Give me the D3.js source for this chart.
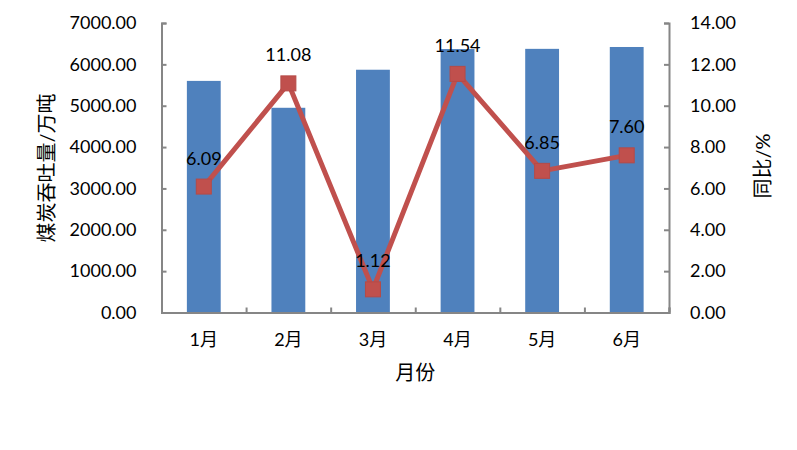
<!DOCTYPE html>
<html>
<head>
<meta charset="utf-8">
<script src="https://cdn.jsdelivr.net/npm/d3@7"></script>
<style>
  body { margin: 0; background: #fff; }
  svg text { font-family: Lato, "Noto Sans CJK SC", sans-serif; fill: #000; }
</style>
</head>
<body>
<div id="chart"></div>
<script>
// data
var months = ["1月", "2月", "3月", "4月", "5月", "6月"];
var throughput = [5600, 4950, 5870, 6370, 6375, 6420];   // 煤炭吞吐量/万吨
var yoy = [6.09, 11.08, 1.12, 11.54, 6.85, 7.60];          // 同比/%
var leftTicks = [0, 1000, 2000, 3000, 4000, 5000, 6000, 7000];
var rightTicks = [0, 2, 4, 6, 8, 10, 12, 14];

var svgWidth = 797, svgHeight = 450;
var margin = {top: 23, right: 128, bottom: 137.5, left: 161.5},
    width = svgWidth - margin.left - margin.right,
    height = svgHeight - margin.top - margin.bottom;

var axisColor = "#868686";

var svg = d3.select("#chart")
  .append("svg")
    .attr("width", svgWidth)
    .attr("height", svgHeight)
  .append("g")
    .attr("transform", `translate(${margin.left},${margin.top})`);

var x = d3.scaleBand()
  .domain(months)
  .range([0, width])
  .paddingInner(0.6)
  .paddingOuter(0.3);

var yL = d3.scaleLinear().domain([0, 7000]).range([height, 0]);
var yR = d3.scaleLinear().domain([0, 14]).range([height, 0]);

// bars
svg.selectAll("rect.bar")
  .data(throughput)
  .enter().append("rect")
    .attr("class", "bar")
    .attr("x", (d, i) => x(months[i]))
    .attr("y", d => yL(d))
    .attr("width", x.bandwidth())
    .attr("height", d => height - yL(d))
    .attr("fill", "#4F81BD");

// left axis
var gL = svg.append("g")
  .call(d3.axisLeft(yL).tickValues(leftTicks).tickSize(-5).tickPadding(25)
    .tickFormat(d3.format(".2f")));

// right axis
var gR = svg.append("g")
  .attr("transform", `translate(${width},0)`)
  .call(d3.axisRight(yR).tickValues(rightTicks).tickSize(-5).tickPadding(21)
    .tickFormat(d3.format(".2f")));

// bottom axis: ticks between categories, labels under centres
var xEdges = d3.scaleLinear().domain([0, months.length]).range([0, width]);
var gB = svg.append("g")
  .attr("transform", `translate(0,${height})`)
  .call(d3.axisBottom(xEdges).tickValues(d3.range(months.length + 1)).tickSize(-5).tickFormat(""));

var gBL = svg.append("g")
  .attr("transform", `translate(0,${height})`)
  .call(d3.axisBottom(x).tickSize(0).tickPadding(21));
gBL.select(".domain").remove();

[gL, gR, gB].forEach(g => {
  g.select(".domain").attr("stroke", axisColor).attr("stroke-width", 2);
  g.selectAll(".tick line").attr("stroke", axisColor).attr("stroke-width", 2);
});
svg.selectAll(".tick text").attr("font-size", 18).attr("fill", "#000")
  .style("font-family", "Lato, 'Noto Sans CJK SC', sans-serif");

// line
var cx = i => x(months[i]) + x.bandwidth() / 2;
svg.append("path")
  .datum(yoy)
  .attr("fill", "none")
  .attr("stroke", "#C0504D")
  .attr("stroke-width", 5)
  .attr("stroke-linejoin", "round")
  .attr("d", d3.line()
    .x((d, i) => cx(i))
    .y(d => yR(d)));

var mk = 15;
svg.selectAll("rect.marker")
  .data(yoy)
  .enter().append("rect")
    .attr("class", "marker")
    .attr("x", (d, i) => cx(i) - mk / 2)
    .attr("y", d => yR(d) - mk / 2)
    .attr("width", mk)
    .attr("height", mk)
    .attr("fill", "#C0504D")
    .attr("stroke", "#B54A47")
    .attr("stroke-width", 1);

// data labels
svg.selectAll("text.lbl")
  .data(yoy)
  .enter().append("text")
    .attr("class", "lbl")
    .attr("x", (d, i) => cx(i))
    .attr("y", d => yR(d) - 22)
    .attr("text-anchor", "middle")
    .attr("font-size", 18)
    .text(d => d.toFixed(2));

// axis titles
svg.append("text")
  .attr("transform", `translate(${46 - margin.left},${168 - margin.top}) rotate(-90)`)
  .attr("text-anchor", "middle")
  .attr("dominant-baseline", "central")
  .attr("font-size", 20)
  .text("煤炭吞吐量/万吨");

svg.append("text")
  .attr("transform", `translate(${762 - margin.left},${166 - margin.top}) rotate(-90)`)
  .attr("text-anchor", "middle")
  .attr("dominant-baseline", "central")
  .attr("font-size", 20)
  .text("同比/%");

svg.append("text")
  .attr("x", width / 2)
  .attr("y", 380 - margin.top)
  .attr("text-anchor", "middle")
  .attr("font-size", 20)
  .text("月份");
</script>
</body>
</html>
